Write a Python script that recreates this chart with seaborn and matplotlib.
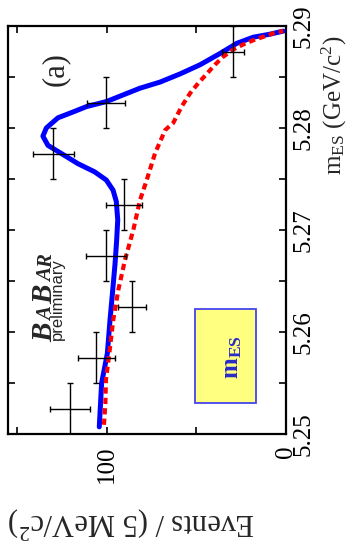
import matplotlib
matplotlib.use("Agg")
import matplotlib.pyplot as plt
import seaborn as sns
from matplotlib.patches import Rectangle
from matplotlib.ticker import FixedLocator, MultipleLocator, FixedFormatter

# ---- data ----
bin_centers = [5.2525, 5.2575, 5.2625, 5.2675, 5.2725, 5.2775, 5.2825, 5.2875]
events = [120.5, 106.0, 86.0, 100.5, 90.7, 130.0, 100.5, 29.6]
event_err = [11.2, 10.2, 7.8, 11.0, 10.0, 11.4, 10.8, 6.0]
bin_half_width = [0.0025] * 8

fit_mes = [5.2507, 5.2550, 5.2579, 5.2612, 5.2641, 5.2667, 5.2690, 5.2710,
           5.2728, 5.2739, 5.2749, 5.2757, 5.2765, 5.2775, 5.2783, 5.2792,
           5.2800, 5.2810, 5.2815, 5.2821, 5.2826, 5.2839, 5.2845, 5.2853,
           5.2862, 5.2873, 5.2883, 5.2889, 5.2892, 5.2895]
fit_total = [104.3, 103.0, 99.8, 98.3, 96.8, 95.5, 94.6, 94.0,
             94.8, 96.6, 100.4, 106.9, 116.2, 125.5, 133.0, 135.8,
             133.9, 127.4, 120.0, 111.4, 100.2, 81.6, 70.4, 59.2,
             48.0, 36.9, 27.5, 18.3, 8.9, 1.5]

bkg_mes = [5.2509, 5.2530, 5.2553, 5.2579, 5.2612, 5.2641, 5.2671, 5.2700,
           5.2729, 5.2749, 5.2775, 5.2798, 5.2805, 5.2821, 5.2834, 5.2844,
           5.2853, 5.2862, 5.2870, 5.2877, 5.2882, 5.2886, 5.2890, 5.2894,
           5.2895]
bkg_events = [101.7, 100.9, 100.6, 98.7, 96.5, 93.7, 89.9, 85.3,
              81.6, 77.8, 73.2, 67.5, 63.0, 58.3, 53.6, 49.0,
              44.3, 39.7, 35.0, 29.4, 23.8, 18.3, 11.7, 5.2,
              1.5]

event_ticks = [0, 100]
event_tick_labels = ["0", "100"]
event_minor = [50, 150]
mes_ticks = [5.25, 5.26, 5.27, 5.28, 5.29]
mes_tick_labels = ["5.25", "5.26", "5.27", "5.28", "5.29"]

# ---- style ----
sns.set_style("ticks")
plt.rcParams["font.family"] = ["Liberation Serif", "DejaVu Serif"]
plt.rcParams["mathtext.fontset"] = "custom"
plt.rcParams["mathtext.rm"] = "Liberation Serif"
plt.rcParams["mathtext.it"] = "Liberation Serif:italic"
plt.rcParams["mathtext.bf"] = "Liberation Serif:bold"

W, H = 349, 547
fig = plt.figure(figsize=(W / 100, H / 100), dpi=100)
ax = fig.add_axes([8 / W, 113 / H, 278 / W, 408 / H])

ax.errorbar(events, bin_centers, xerr=event_err, yerr=bin_half_width,
            fmt="none", ecolor="black", elinewidth=1.0, capsize=2.2,
            capthick=1.0, zorder=5)
sns.lineplot(x=fit_total, y=fit_mes, orient="y", estimator=None,
             color="#0000ff", lw=3.6, ax=ax, zorder=3)
sns.lineplot(x=bkg_events, y=bkg_mes, orient="y", estimator=None,
             color="#ff0000", lw=3.0, linestyle=(0, (1.5, 1.0)), ax=ax, zorder=4)

ax.set_xlim(155.3, 0)
ax.set_ylim(5.25, 5.29)

ax.xaxis.set_major_locator(FixedLocator(event_ticks))
ax.xaxis.set_major_formatter(FixedFormatter(event_tick_labels))
ax.xaxis.set_minor_locator(FixedLocator(event_minor))
ax.yaxis.set_major_locator(FixedLocator(mes_ticks))
ax.yaxis.set_major_formatter(FixedFormatter(mes_tick_labels))
ax.yaxis.set_minor_locator(MultipleLocator(0.005))

ax.tick_params(which="both", direction="in", length=5, width=1.2,
               top=True, bottom=True, left=True, right=True,
               labelleft=False, labelright=True, labelbottom=True, labeltop=False,
               colors="black")
ax.tick_params(axis="x", labelsize=18, labelrotation=90, pad=8.5)
ax.tick_params(axis="y", labelsize=18, labelrotation=90, pad=5)
for lab in ax.get_yticklabels():
    lab.set_va("center")

for sp in ax.spines.values():
    sp.set_linewidth(1.6)
    sp.set_color("black")

ax.set_xlabel(r"Events / (5 MeV/c$^2$)", fontsize=22, rotation=180,
              ha="center", va="center")
ax.xaxis.set_label_coords(0.446, -0.218)
ax.yaxis.set_label_position("right")
ax.set_ylabel(r"m$_{\rm ES}$ (GeV/c$^2$)", fontsize=18, rotation=90,
              ha="center", va="center")
ax.yaxis.set_label_coords(1.176, 0.806)

# (a)
ax.text(0.169, 0.895, "(a)", transform=ax.transAxes, fontsize=22,
        rotation=90, ha="center", va="center")

# BaBar logo
logo = [("B", 21, 0.2255), ("A", 15, 0.2775), ("B", 21, 0.318),
        ("A", 15, 0.3716), ("R", 15, 0.407)]
for ch, fs, yy in logo:
    ax.text(0.158, yy, ch, transform=ax.transAxes, fontsize=fs,
            fontweight="bold", fontstyle="italic", rotation=90,
            rotation_mode="anchor", ha="left", va="baseline")
ax.text(0.194, 0.2304, "preliminary", transform=ax.transAxes, fontsize=12,
        family=["Liberation Sans", "DejaVu Sans"], rotation=90,
        rotation_mode="anchor", ha="left", va="baseline")

# m_ES box
ax.add_patch(Rectangle((0.6727, 0.0758), 0.2194, 0.2298, transform=ax.transAxes,
                       facecolor="#ffff80", edgecolor="#4444ee", lw=1.3, zorder=2))
ax.text(0.809, 0.188, r"$\mathbf{m}_{\mathbf{ES}}$", transform=ax.transAxes,
        fontsize=18, color="#2a2ac8", rotation=90, ha="center", va="center",
        zorder=6)

fig.savefig("out.png", dpi=100)
